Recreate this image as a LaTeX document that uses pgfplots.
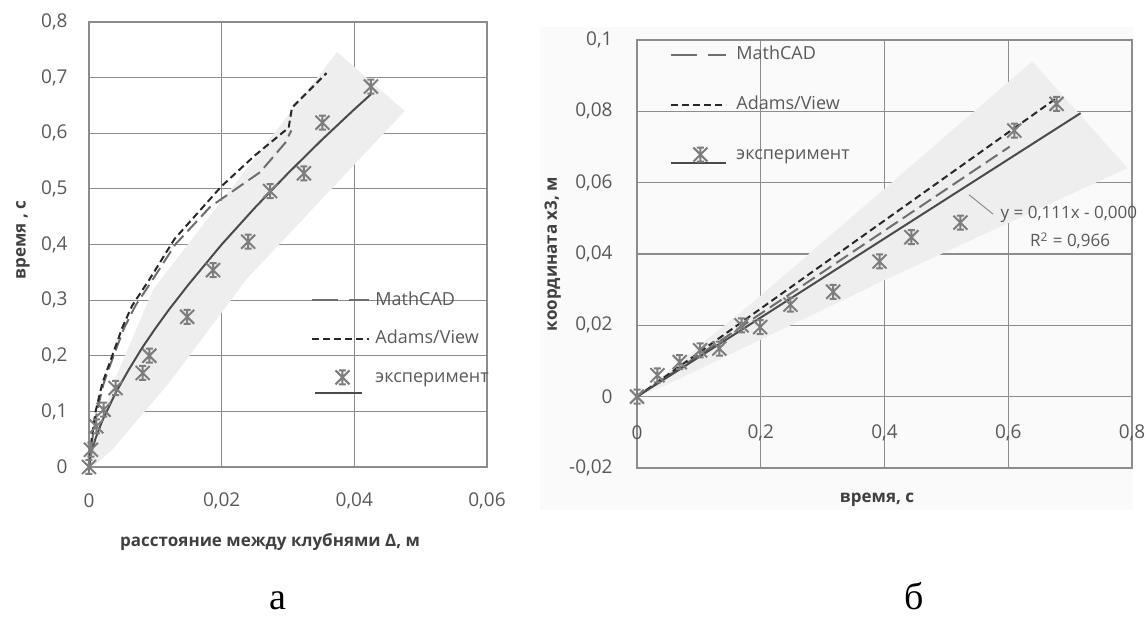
\documentclass[border=0pt]{standalone}
\usepackage{fontspec}
\setmainfont{Open Sans}
\newfontfamily\capfont{Liberation Serif}
\usepackage{pgfplots}
\pgfplotsset{compat=1.18}

\definecolor{gridc}{RGB}{140,140,140}
\definecolor{tickc}{RGB}{89,89,89}
\definecolor{labc}{RGB}{64,64,64}
\definecolor{bandc}{RGB}{238,238,238}
\definecolor{mcad}{RGB}{110,110,110}
\definecolor{adams}{RGB}{40,40,40}
\definecolor{fitc}{RGB}{75,75,75}
\definecolor{expc}{RGB}{125,125,125}
\definecolor{bgc}{RGB}{250,250,250}

% Excel-style star marker (X + vertical bar + short caps)
\pgfdeclareplotmark{exstar}{%
  \pgfpathmoveto{\pgfqpoint{-\pgfplotmarksize}{-\pgfplotmarksize}}%
  \pgfpathlineto{\pgfqpoint{\pgfplotmarksize}{\pgfplotmarksize}}%
  \pgfpathmoveto{\pgfqpoint{-\pgfplotmarksize}{\pgfplotmarksize}}%
  \pgfpathlineto{\pgfqpoint{\pgfplotmarksize}{-\pgfplotmarksize}}%
  \pgfpathmoveto{\pgfqpoint{0pt}{-\pgfplotmarksize}}%
  \pgfpathlineto{\pgfqpoint{0pt}{\pgfplotmarksize}}%
  \pgfpathmoveto{\pgfqpoint{-0.5\pgfplotmarksize}{\pgfplotmarksize}}%
  \pgfpathlineto{\pgfqpoint{0.5\pgfplotmarksize}{\pgfplotmarksize}}%
  \pgfpathmoveto{\pgfqpoint{-0.5\pgfplotmarksize}{-\pgfplotmarksize}}%
  \pgfpathlineto{\pgfqpoint{0.5\pgfplotmarksize}{-\pgfplotmarksize}}%
  \pgfusepathqstroke}

\pgfplotsset{
  exc/.style={
    scale only axis, clip=false,
    scaled x ticks=false, scaled y ticks=false,
    axis line style={gridc, line width=0.7pt},
    grid=major, major grid style={gridc, line width=0.6pt},
    major tick length=0pt,
    tick label style={font=\fontsize{9.5}{11}\selectfont, text=tickc},
    label style={font=\bfseries\fontsize{8.5}{10}\selectfont, text=labc},
    legend cell align=left,
    legend style={draw=none, fill=none, inner sep=0pt,
      nodes={inner sep=0pt, text height=7pt, text depth=2pt,
        font=\fontsize{9}{11}\selectfont, text=tickc}},
  },
  mcadline/.style={mcad, line width=1pt, dash pattern=on 7pt off 3pt},
  adamsline/.style={adams, line width=1pt, dash pattern=on 3.5pt off 2pt},
  fitline/.style={fitc, line width=1pt},
  expmarks/.style={only marks, mark=exstar, mark size=3.5pt,
    mark options={expc, line width=1pt}},
}

\begin{document}
\begin{tikzpicture}
\useasboundingbox (0,0) rectangle (574pt,309.5pt);
\fill[bgc] (270pt,54.5pt) rectangle (566.5pt,296pt);

% ---------- а ----------
\begin{axis}[exc,
  at={(44.5pt,76pt)}, anchor=south west,
  width=199pt, height=222.5pt,
  xmin=0, xmax=0.06, ymin=0, ymax=0.8,
  xtick={0,0.02,0.04,0.06},
  xticklabels={0,{0,02},{0,04},{0,06}},
  ytick={0,0.1,0.2,0.3,0.4,0.5,0.6,0.7,0.8},
  yticklabels={0,{0,1},{0,2},{0,3},{0,4},{0,5},{0,6},{0,7},{0,8}},
  xticklabel style={anchor=center, yshift=-17pt},
  yticklabel style={anchor=east, inner sep=0pt, xshift=-10.5pt},
  xlabel={расстояние между клубнями Δ, м},
  ylabel={время , с},
  x label style={at={(axis description cs:0.455,-0.169)}, anchor=center},
  y label style={at={(axis description cs:-0.166,0.51)}, anchor=center},
  legend style={at={(axis description cs:0.558,0.3955)}, anchor=north west,
    row sep=10.25pt, column sep=2.5pt},
]
\addplot[fill=bandc, draw=none, forget plot] coordinates {
  (0,0) (0.0015,0.07) (0.004,0.16) (0.0097,0.32) (0.0374,0.746)
  (0.0476,0.64) (0.0237,0.337) (0.012,0.15) (0.0069,0.079)
  (0.0035,0.031) (0.001,0.005)} -- cycle;
\addplot[mcadline, forget plot] coordinates {
  (0,0) (0.0005,0.05) (0.0012,0.1) (0.0022,0.15) (0.0037,0.2)
  (0.0053,0.25) (0.007,0.29) (0.0095,0.335) (0.013,0.4)
  (0.0183,0.468) (0.0258,0.53) (0.0296,0.583) (0.0305,0.605)};
\addplot[adamsline, forget plot] coordinates {
  (0,0) (0.0004,0.05) (0.001,0.1) (0.002,0.15) (0.0035,0.2)
  (0.005,0.25) (0.0065,0.29) (0.0091,0.337) (0.0129,0.41)
  (0.02,0.505) (0.025,0.56) (0.0301,0.61) (0.0306,0.646) (0.0358,0.708)};
\addplot[fitline, forget plot] coordinates {
  (0,0) (0.0002,0.017) (0.0005,0.032) (0.001,0.052) (0.002,0.083)
  (0.004,0.133) (0.006,0.175) (0.008,0.214) (0.010,0.249)
  (0.012,0.282) (0.015,0.328) (0.020,0.4) (0.025,0.466)
  (0.030,0.528) (0.035,0.587) (0.040,0.643) (0.0425,0.67)};
\addplot[expmarks, forget plot] coordinates {
  (0,0) (0.0003,0.031) (0.0011,0.073) (0.0022,0.103) (0.004,0.142)
  (0.0081,0.169) (0.0091,0.2) (0.0148,0.27) (0.0187,0.354)
  (0.024,0.405) (0.0273,0.496) (0.0324,0.528) (0.0352,0.619)
  (0.0425,0.684)};
\addlegendimage{legend image code/.code={
  \draw[mcad, line width=1pt, dash pattern=on 13pt off 5.5pt] (0pt,0pt) -- (28.5pt,0pt);}}
\addlegendentry{MathCAD}
\addlegendimage{legend image code/.code={
  \draw[adams, line width=1pt, dash pattern=on 3.5pt off 2pt] (0pt,0pt) -- (28.5pt,0pt);}}
\addlegendentry{Adams/View}
\addlegendimage{legend image code/.code={
  \draw[fitc, line width=1pt] (1.5pt,-8pt) -- (25pt,-8pt);
  \draw[expc, line width=1pt] plot[only marks, mark=exstar, mark size=3.5pt]
    coordinates {(15pt,0pt)};}}
\addlegendentry{эксперимент}
\end{axis}

% ---------- б ----------
\begin{axis}[exc,
  at={(318.5pt,75.5pt)}, anchor=south west,
  width=247.5pt, height=214pt,
  xmin=0, xmax=0.8, ymin=-0.02, ymax=0.1,
  xtick={0,0.2,0.4,0.6,0.8},
  xticklabels={0,{0,2},{0,4},{0,6},{0,8}},
  ytick={-0.02,0,0.02,0.04,0.06,0.08,0.1},
  yticklabels={{-0,02},0,{0,02},{0,04},{0,06},{0,08},{0,1}},
  xticklabel style={anchor=center, yshift=17.5pt},
  yticklabel style={anchor=east, inner sep=0pt, xshift=-12pt},
  xlabel={время, с},
  ylabel={координата x3, м},
  x label style={at={(axis description cs:0.485,-0.075)}, anchor=center},
  y label style={at={(axis description cs:-0.17,0.5)}, anchor=center},
  legend style={at={(axis description cs:0.0667,0.988)}, anchor=north west,
    row sep=16pt, column sep=4.5pt},
]
\addplot[fill=bandc, draw=none, forget plot] coordinates {
  (0,0) (0.1916,0.0271) (0.6387,0.094) (0.7927,0.0641)
  (0.398,0.0325) (0.05,0.0035)} -- cycle;
\addplot[mcadline, forget plot] coordinates {(0,0) (0.6024,0.0701)};
\addplot[adamsline, forget plot] coordinates {(0,0) (0.678,0.0837)};
\addplot[fitline, forget plot] coordinates {(0,0) (0.717,0.0795)};
\addplot[expmarks, forget plot] coordinates {
  (0,0) (0.033,0.006) (0.069,0.0097) (0.102,0.013) (0.133,0.0135)
  (0.169,0.02) (0.199,0.0195) (0.248,0.0258) (0.317,0.0294)
  (0.392,0.0379) (0.4435,0.0447) (0.5227,0.0488) (0.6097,0.0746)
  (0.678,0.0821)};
\addlegendimage{legend image code/.code={
  \draw[mcad, line width=1pt, dash pattern=on 13pt off 5.5pt] (0pt,0pt) -- (27.5pt,0pt);}}
\addlegendentry{MathCAD}
\addlegendimage{legend image code/.code={
  \draw[adams, line width=1pt, dash pattern=on 3.5pt off 2pt] (0pt,0pt) -- (27.5pt,0pt);}}
\addlegendentry{Adams/View}
\addlegendimage{legend image code/.code={
  \draw[fitc, line width=1pt] (0pt,-4pt) -- (27.5pt,-4pt);
  \draw[expc, line width=1pt] plot[only marks, mark=exstar, mark size=3.5pt]
    coordinates {(14.5pt,0pt)};}}
\addlegendentry{эксперимент}
\draw[gridc, line width=0.5pt] (axis cs:0.5366,0.0566) -- (axis cs:0.5754,0.0512);
\node[font=\fontsize{8.5}{10}\selectfont, text=tickc] at (axis cs:0.698,0.051)
  {y = 0,111x - 0,000};
\node[font=\fontsize{8.5}{10}\selectfont, text=tickc] at (axis cs:0.70,0.0437)
  {R\textsuperscript{2} = 0,966};
\end{axis}

\node[font=\capfont\fontsize{19}{21}\selectfont, anchor=base, inner sep=0pt] at (139pt,4.5pt) {а};
\node[font=\capfont\fontsize{19}{21}\selectfont, anchor=base, inner sep=0pt] at (457pt,4.5pt) {б};
\end{tikzpicture}
\end{document}
